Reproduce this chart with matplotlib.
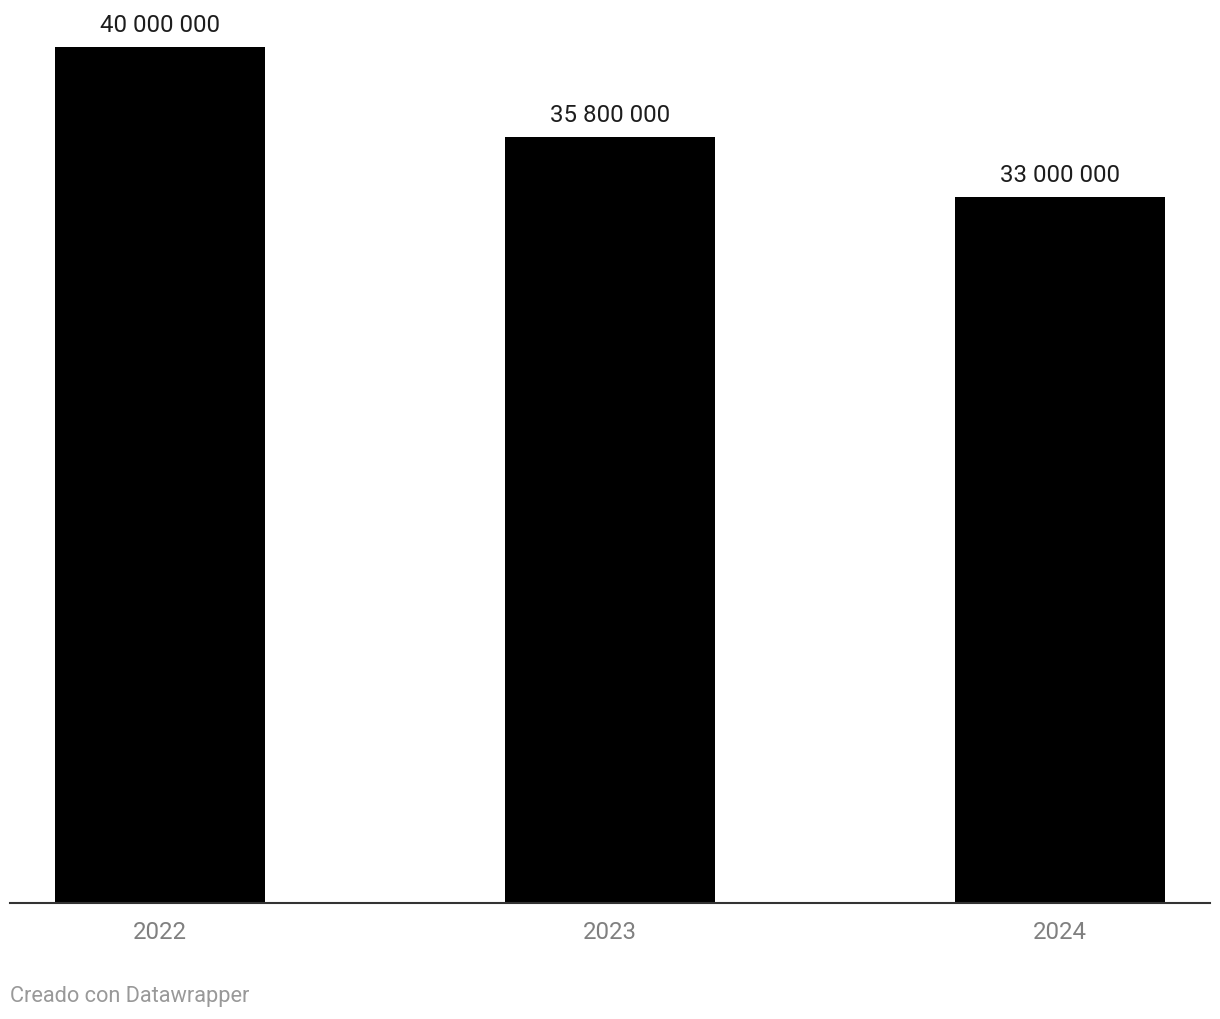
import matplotlib
matplotlib.use("Agg")
import matplotlib.pyplot as plt

years = ["2022", "2023", "2024"]
values = [40_000_000, 35_800_000, 33_000_000]
labels = ["40 000 000", "35 800 000", "33 000 000"]

W, H = 1220, 1020
fig = plt.figure(figsize=(W / 100, H / 100), dpi=100)
plt.rcParams["font.family"] = ["Roboto", "DejaVu Sans"]

left, right = 10, 1210
bottom, top = 904, 48
ax = fig.add_axes([left / W, (H - bottom) / H, (right - left) / W, (bottom - top) / H])

x = list(range(len(years)))
ax.bar(x, values, width=210 / 450, color="#000000", zorder=2)
ax.set_xlim(-1 / 3, 7 / 3)
ax.set_ylim(0, 40_000_000)

for xi, v, lab in zip(x, values, labels):
    ax.annotate(lab, (xi, v), xytext=(0, 8), textcoords="offset points",
                ha="center", va="bottom", fontsize=17.3, color="#1d1d1d")

for s in ["top", "right", "left"]:
    ax.spines[s].set_visible(False)
ax.spines["bottom"].set_color("#333333")
ax.spines["bottom"].set_linewidth(1.5)
ax.spines["bottom"].set_zorder(3)
ax.set_yticks([])
ax.set_xticks(x)
ax.set_xticklabels(years, fontsize=17.3, color="#808080")
ax.tick_params(axis="x", length=0, pad=12.5)

fig.text(10 / W, 1 - 997 / H, "Creado con Datawrapper", fontsize=15.7,
         color="#999999", ha="left", va="center")

fig.savefig("out.png", dpi=100)
